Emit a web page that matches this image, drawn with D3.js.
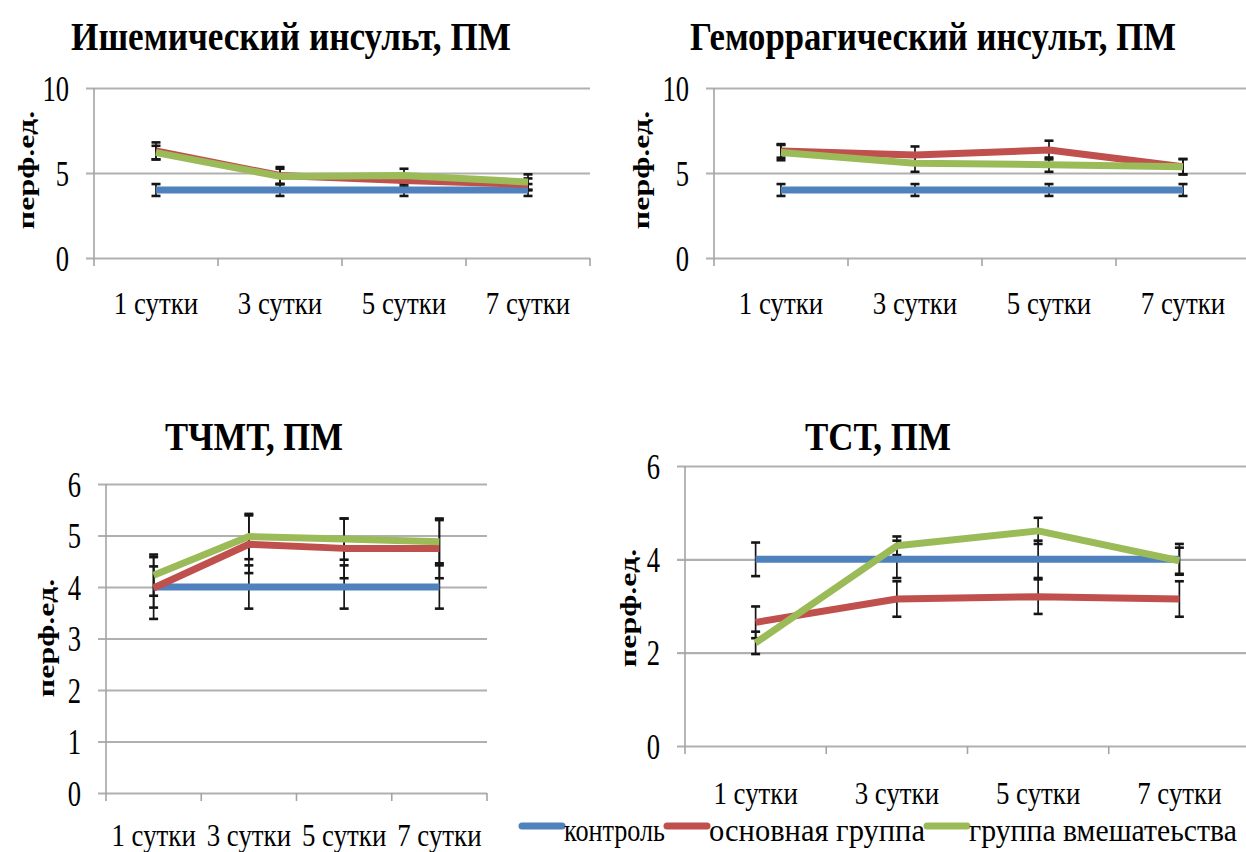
<!DOCTYPE html>
<html>
<head>
<meta charset="utf-8">
<script src="https://cdn.jsdelivr.net/npm/d3@7/dist/d3.min.js"></script>
<style>
  html, body { margin: 0; padding: 0; background: #fff; }
  svg { display: block; }
</style>
</head>
<body>
<svg id="chart" width="1246" height="852"></svg>
<script>
// ---- data -------------------------------------------------------------
const categories = ["1 сутки", "3 сутки", "5 сутки", "7 сутки"];
const seriesNames = ["контроль", "основная группа", "группа вмешатеьства"];
const seriesColors = ["#4F81BD", "#C0504D", "#9BBB59"];

// Ишемический инсульт, ПМ
const ischControl = [4.0, 4.0, 4.0, 4.0];
const ischControlErr = [0.35, 0.35, 0.35, 0.35];
const ischMain = [6.3, 4.85, 4.56, 4.33];
const ischMainErr = [0.5, 0.5, 0.35, 0.35];
const ischInterv = [6.2, 4.8, 4.85, 4.47];
const ischIntervErr = [0.4, 0.45, 0.4, 0.45];

// Геморрагический инсульт, ПМ
const hemControl = [4.0, 4.0, 4.0, 4.0];
const hemControlErr = [0.35, 0.35, 0.35, 0.35];
const hemMain = [6.3, 6.06, 6.35, 5.37];
const hemMainErr = [0.4, 0.5, 0.55, 0.45];
const hemInterv = [6.2, 5.57, 5.49, 5.37];
const hemIntervErr = [0.45, 0.5, 0.42, 0.45];

// ТЧМТ, ПМ
const tbiControl = [4.0, 4.0, 4.0, 4.0];
const tbiControlErr = [0.4, 0.42, 0.42, 0.42];
const tbiMain = [3.98, 4.83, 4.75, 4.75];
const tbiMainErr = [0.6, 0.56, 0.58, 0.58];
const tbiInterv = [4.23, 4.98, 4.93, 4.88];
const tbiIntervErr = [0.4, 0.44, 0.4, 0.42];

// ТСТ, ПМ
const tstControl = [4.0, 4.0, 4.0, 4.0];
const tstControlErr = [0.36, 0.4, 0.4, 0.33];
const tstMain = [2.65, 3.15, 3.2, 3.15];
const tstMainErr = [0.34, 0.38, 0.37, 0.38];
const tstInterv = [2.21, 4.29, 4.61, 3.97];
const tstIntervErr = [0.24, 0.2, 0.28, 0.28];

// y-axis ticks
const ticksTen = [0, 5, 10];
const ticksSixAll = [0, 1, 2, 3, 4, 5, 6];
const ticksSixEven = [0, 2, 4, 6];

const titles = ["Ишемический инсульт, ПМ", "Геморрагический инсульт, ПМ", "ТЧМТ, ПМ", "ТСТ, ПМ"];
const yLabel = "перф.ед.";

// ---- panels (geometry) -------------------------------------------------
const panels = [
  { title: titles[0], yMax: 10, ticks: ticksTen,
    series: [[ischControl, ischControlErr], [ischMain, ischMainErr], [ischInterv, ischIntervErr]],
    left: 94, right: 590, top: 88, bottom: 258,
    titleX: 291, titleY: 50, titleW: 440,
    yLabX: 26, yLabY: 170, catY: 314 },
  { title: titles[1], yMax: 10, ticks: ticksTen,
    series: [[hemControl, hemControlErr], [hemMain, hemMainErr], [hemInterv, hemIntervErr]],
    left: 714, right: 1250, top: 88, bottom: 258,
    titleX: 933, titleY: 50, titleW: 486,
    yLabX: 641, yLabY: 170, catY: 314 },
  { title: titles[2], yMax: 6, ticks: ticksSixAll,
    series: [[tbiControl, tbiControlErr], [tbiMain, tbiMainErr], [tbiInterv, tbiIntervErr]],
    left: 106, right: 487, top: 484, bottom: 793,
    titleX: 254, titleY: 450, titleW: 178,
    yLabX: 46, yLabY: 638, catY: 846 },
  { title: titles[3], yMax: 6, ticks: ticksSixEven,
    series: [[tstControl, tstControlErr], [tstMain, tstMainErr], [tstInterv, tstIntervErr]],
    left: 685, right: 1250, top: 466, bottom: 746,
    titleX: 878, titleY: 450, titleW: 146,
    yLabX: 628, yLabY: 608, catY: 804 }
];

const FONT = "Liberation Serif";
const SX = 0.76; // horizontal squeeze of the lettering

const svg = d3.select("#chart");
svg.append("rect").attr("width", 1246).attr("height", 852).attr("fill", "#fff");

function serif(sel, size, bold) {
  return sel.attr("font-family", FONT).style("font-family", FONT)
    .style("font-size", size + "px")
    .style("font-weight", bold ? "bold" : "normal").attr("fill", "#000");
}

// centred text squeezed to a given width
function fitText(g, str, x, y, width, size, bold) {
  const t = serif(g.append("text").text(str), size, bold);
  const natural = t.node().getComputedTextLength();
  t.attr("text-anchor", "middle").attr("transform", `translate(${x},${y}) scale(${width / natural},1)`);
  return t;
}

panels.forEach(p => {
  const g = svg.append("g");
  const y = d3.scaleLinear().domain([0, p.yMax]).range([p.bottom, p.top]);
  const x = d3.scaleBand().domain(categories).range([p.left, p.right]);
  const cx = c => x(c) + x.bandwidth() / 2;

  // gridlines + value labels
  const yAxis = g.append("g")
    .attr("transform", `translate(${p.left},0)`)
    .call(d3.axisLeft(y).tickValues(p.ticks).tickFormat(d3.format("d"))
      .tickSizeInner(-(p.right - p.left)).tickSizeOuter(0));
  yAxis.attr("font-family", FONT);
  yAxis.select(".domain").remove();
  yAxis.selectAll(".tick line")
    .attr("x1", -8)
    .attr("stroke", "#b0b0b0").attr("stroke-width", 2.2);
  serif(yAxis.selectAll(".tick text"), 35, false)
    .attr("x", -25 / SX).attr("dy", "0.35em")
    .attr("transform", `scale(${SX},1)`);

  // vertical axis line
  g.append("line")
    .attr("x1", p.left).attr("x2", p.left)
    .attr("y1", p.top).attr("y2", p.bottom)
    .attr("stroke", "#a4a4a4").attr("stroke-width", 1.6);

  // category boundary ticks
  const bounds = categories.map(c => x(c)).concat([x.range()[1]]);
  g.append("g").selectAll("line").data(bounds).join("line")
    .attr("x1", d => d).attr("x2", d => d)
    .attr("y1", p.bottom).attr("y2", p.bottom + 8)
    .attr("stroke", "#a4a4a4").attr("stroke-width", 1.6);

  // category labels
  const xAxis = g.append("g")
    .attr("transform", `translate(0,${p.catY})`)
    .call(d3.axisBottom(x).tickSize(0).tickPadding(0));
  xAxis.attr("font-family", FONT);
  xAxis.select(".domain").remove();
  serif(xAxis.selectAll(".tick text"), 32, false)
    .attr("y", 0).attr("dy", 0)
    .attr("transform", `scale(0.84,1)`);

  // error bars (beneath the lines)
  p.series.forEach(([vals, errs]) => {
    const eg = g.append("g").attr("stroke", "#151515");
    categories.forEach((c, i) => {
      const xx = cx(c), hi = y(vals[i] + errs[i]), lo = y(vals[i] - errs[i]);
      eg.append("line").attr("x1", xx).attr("x2", xx).attr("y1", hi).attr("y2", lo).attr("stroke-width", 1.7);
      [hi, lo].forEach(yy => eg.append("line")
        .attr("x1", xx - 4.5).attr("x2", xx + 4.5).attr("y1", yy).attr("y2", yy).attr("stroke-width", 2.6));
    });
  });

  // series lines
  const line = d3.line().x((d, i) => cx(categories[i])).y(d => y(d));
  p.series.forEach(([vals], si) => {
    g.append("path")
      .attr("d", line(vals))
      .attr("fill", "none")
      .attr("stroke", seriesColors[si])
      .attr("stroke-width", 7)
      .attr("stroke-linejoin", "round");
  });

  // title
  fitText(g, p.title, p.titleX, p.titleY, p.titleW, 40, true);

  // y-axis label
  serif(g.append("text").text(yLabel), 32, true)
    .attr("text-anchor", "middle").attr("dominant-baseline", "central")
    .attr("transform", `translate(${p.yLabX},${p.yLabY}) scale(0.74,1) rotate(-90)`);
});

// ---- legend -------------------------------------------------------------
const legendItems = [
  { x0: 522, x1: 562, tx: 564, tw: 101 },
  { x0: 667, x1: 707, tx: 709, tw: 216 },
  { x0: 927, x1: 967, tx: 969, tw: 268 }
];
const lg = svg.append("g");
seriesNames.forEach((name, i) => {
  const it = legendItems[i];
  lg.append("line")
    .attr("x1", it.x0).attr("x2", it.x1).attr("y1", 826).attr("y2", 826)
    .attr("stroke", seriesColors[i]).attr("stroke-width", 7).attr("stroke-linecap", "round");
  const t = serif(lg.append("text").text(name), 32, false);
  const n = t.node().getComputedTextLength();
  t.attr("transform", `translate(${it.tx},841) scale(${it.tw / n},1)`);
});
</script>
</body>
</html>
